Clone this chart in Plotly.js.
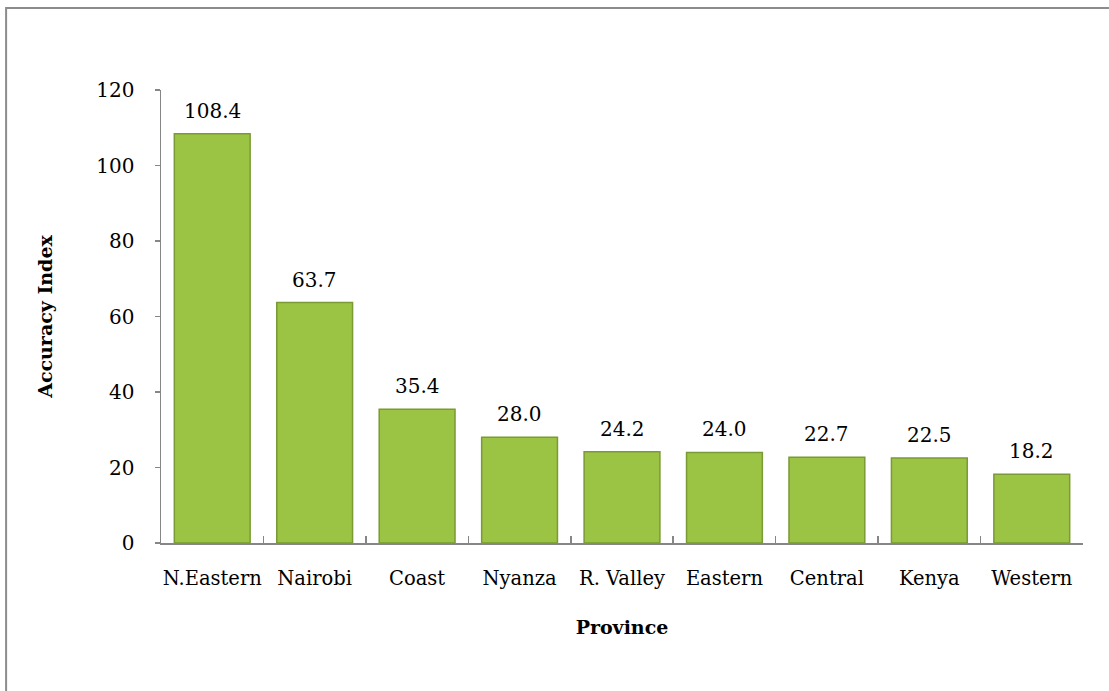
<!DOCTYPE html>
<html>
<head>
<meta charset="utf-8">
<script src="https://cdn.plot.ly/plotly-3.0.1.min.js"></script>
<style>
  html, body { margin: 0; padding: 0; background: #ffffff; }
  #chart { width: 1109px; height: 691px; }
</style>
</head>
<body>
<div id="chart"></div>
<script>
const provinces = ["N.Eastern", "Nairobi", "Coast", "Nyanza", "R. Valley", "Eastern", "Central", "Kenya", "Western"];
const accuracyIndex = [108.4, 63.7, 35.4, 28.0, 24.2, 24.0, 22.7, 22.5, 18.2];
const yTickVals = [0, 20, 40, 60, 80, 100, 120];

const FONT = "DejaVu Serif, Liberation Serif, serif";

const trace = {
  type: "bar",
  x: provinces,
  y: accuracyIndex,
  marker: {
    color: "#9cc444",
    line: { color: "#7a9a35", width: 1.5 }
  },
  hoverinfo: "x+y"
};

const labels = provinces.map((p, i) => ({
  x: p,
  y: accuracyIndex[i],
  xref: "x",
  yref: "y",
  text: accuracyIndex[i].toFixed(1),
  showarrow: false,
  yanchor: "bottom",
  yshift: 9,
  font: { family: FONT, size: 20, color: "#000000" }
}));

const layout = {
  width: 1109,
  height: 691,
  margin: { l: 161, r: 26, t: 90, b: 148 },
  paper_bgcolor: "#ffffff",
  plot_bgcolor: "#ffffff",
  showlegend: false,
  bargap: 0.26,
  font: { family: FONT, size: 20, color: "#000000" },
  xaxis: {
    type: "category",
    tickson: "boundaries",
    ticks: "inside",
    ticklen: 7,
    tickcolor: "#868686",
    tickwidth: 1.5,
    tickangle: 0,
    showline: true,
    linecolor: "#868686",
    linewidth: 1.5,
    showgrid: false,
    zeroline: false,
    ticklabelstandoff: 17,
    tickfont: { family: FONT, size: 19.5, color: "#000000" },
    title: { text: "<b>Province</b>", font: { family: FONT, size: 19, color: "#000000" }, standoff: 32 }
  },
  yaxis: {
    range: [0, 120],
    tickvals: yTickVals,
    ticks: "outside",
    ticklen: 5,
    tickcolor: "#868686",
    tickwidth: 1.5,
    showline: true,
    linecolor: "#868686",
    linewidth: 1.5,
    showgrid: false,
    zeroline: false,
    ticklabelstandoff: 16,
    tickfont: { family: FONT, size: 20, color: "#000000" },
    title: { text: "<b>Accuracy Index</b>", font: { family: FONT, size: 19, color: "#000000" }, standoff: 38 }
  },
  annotations: labels,
  shapes: [{
    type: "rect",
    xref: "paper", yref: "paper",
    x0: -0.168, x1: 1.05, y0: -0.4, y1: 1.181,
    line: { color: "#8c8c8c", width: 2 },
    fillcolor: "rgba(0,0,0,0)",
    layer: "below"
  }]
};

Plotly.newPlot("chart", [trace], layout, { displayModeBar: false, staticPlot: true });
</script>
</body>
</html>
